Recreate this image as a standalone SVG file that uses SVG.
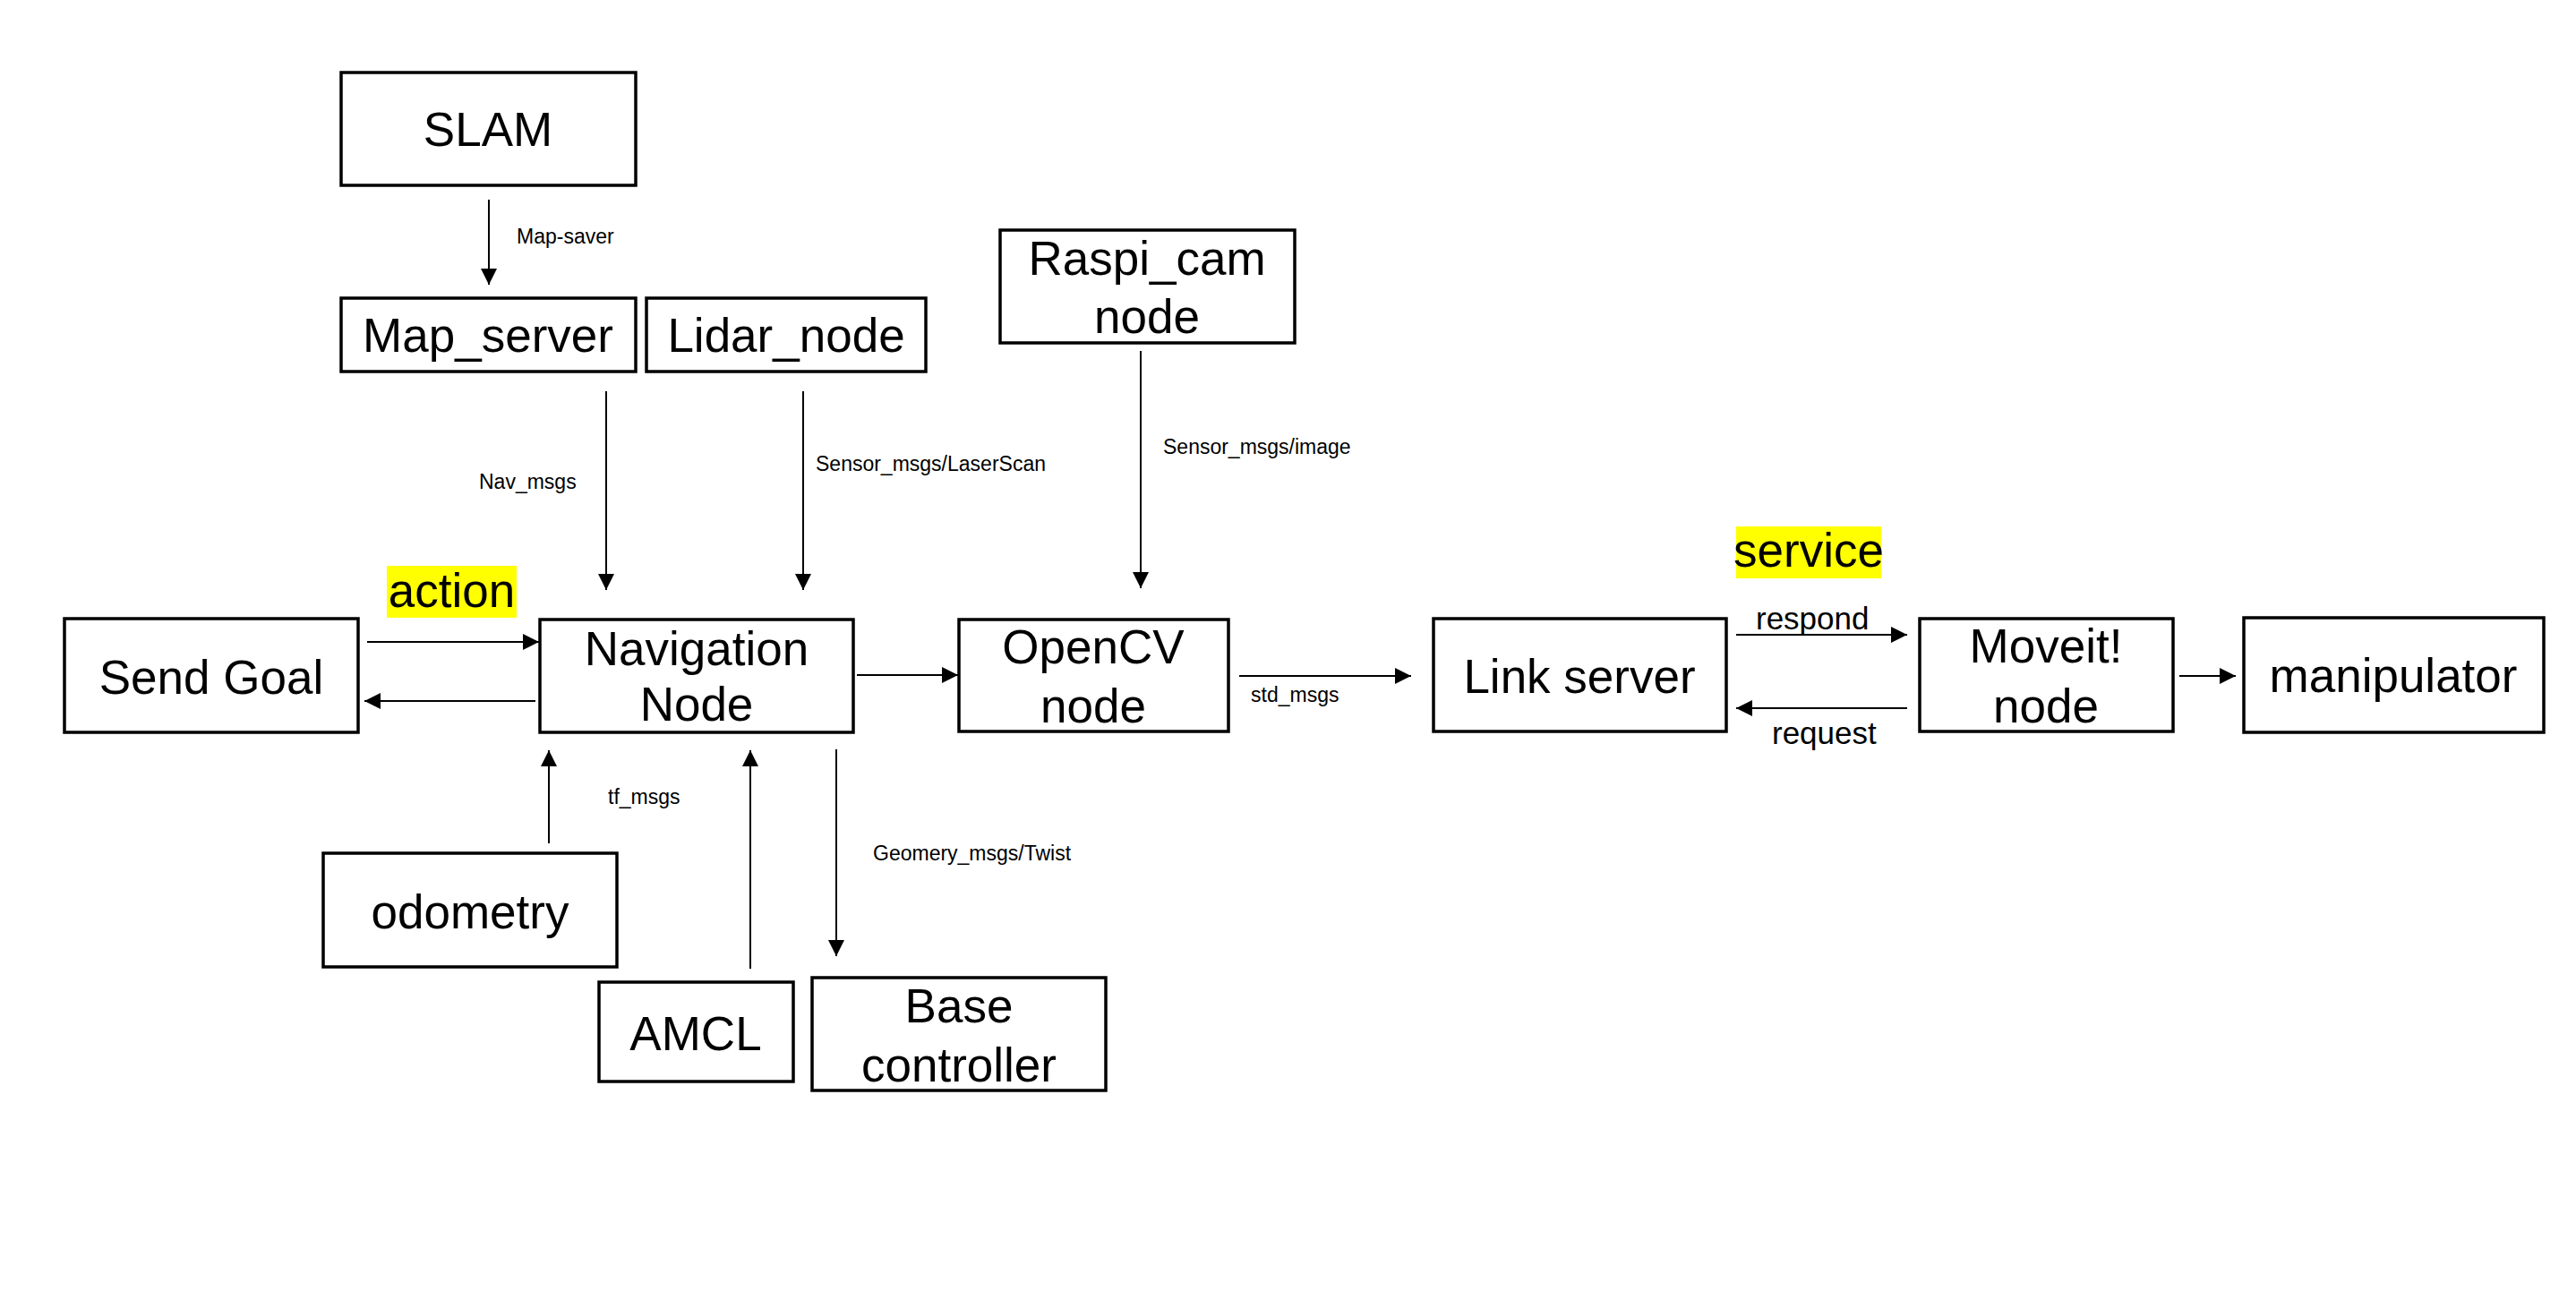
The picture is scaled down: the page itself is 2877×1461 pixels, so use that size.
<svg xmlns="http://www.w3.org/2000/svg" width="2877" height="1461" viewBox="0 0 2877 1461">
<defs>
<style>
.box{fill:#fff;stroke:#000;stroke-width:3.5}
.nt{font-family:"Liberation Sans",Arial,sans-serif;font-size:53px;fill:#000;text-anchor:middle}
.lb{font-family:"Liberation Sans",Arial,sans-serif;font-size:23px;fill:#000}
.lb2{font-family:"Liberation Sans",Arial,sans-serif;font-size:35px;fill:#000}
.hl{fill:#ffff00}
.cn line{stroke:#000;stroke-width:2;fill:none;marker-end:url(#ah)}
</style>
<marker id="ah" markerUnits="userSpaceOnUse" markerWidth="18" markerHeight="18" refX="18" refY="9" orient="auto" viewBox="0 0 18 18">
<path d="M0,0 L18,9 L0,18 z" fill="#000"/>
</marker>
</defs>
<rect width="2877" height="1461" fill="#fff"/>

<g id="connectors" class="cn">
<line x1="546" y1="223" x2="546" y2="318"/>
<line x1="677" y1="437" x2="677" y2="659"/>
<line x1="897" y1="437" x2="897" y2="659"/>
<line x1="1274" y1="392" x2="1274" y2="657"/>
<line x1="410" y1="717" x2="602" y2="717"/>
<line x1="598" y1="783" x2="407" y2="783"/>
<line x1="957" y1="754" x2="1070" y2="754"/>
<line x1="1384" y1="755" x2="1576" y2="755"/>
<line x1="1939" y1="709" x2="2130" y2="709"/>
<line x1="2130" y1="791" x2="1939" y2="791"/>
<line x1="2434" y1="755" x2="2497" y2="755"/>
<line x1="613" y1="942" x2="613" y2="838"/>
<line x1="838" y1="1082" x2="838" y2="838"/>
<line x1="934" y1="837" x2="934" y2="1068"/>
</g>

<g id="labels">
<text class="lb" x="577" y="272">Map-saver</text>
<text class="lb" x="535" y="546">Nav_msgs</text>
<text class="lb" x="911" y="526">Sensor_msgs/LaserScan</text>
<text class="lb" x="1299" y="507">Sensor_msgs/image</text>
<text class="lb" x="1397" y="784">std_msgs</text>
<text class="lb" x="679" y="898">tf_msgs</text>
<text class="lb" x="975" y="961">Geomery_msgs/Twist</text>
<text class="lb2" x="1961" y="703">respond</text>
<text class="lb2" x="1979" y="831">request</text>
<g id="action-label">
<rect class="hl" x="432" y="632" width="145" height="58"/>
<text class="nt" x="504.5" y="678" font-size="52">action</text>
</g>
<g id="service-label">
<rect class="hl" x="1939" y="588" width="162" height="58"/>
<text class="nt" x="2020" y="633" font-size="51">service</text>
</g>
</g>

<g id="slam"><rect class="box" x="381" y="81" width="329" height="126"/><text class="nt" x="545" y="163">SLAM</text></g>
<g id="map_server"><rect class="box" x="381" y="333" width="329" height="82"/><text class="nt" x="545" y="393">Map_server</text></g>
<g id="lidar_node"><rect class="box" x="722" y="333" width="312" height="82"/><text class="nt" x="878" y="393">Lidar_node</text></g>
<g id="raspi_cam"><rect class="box" x="1117" y="257" width="329" height="126"/><text class="nt" x="1281" y="307">Raspi_cam</text><text class="nt" x="1281" y="372">node</text></g>
<g id="send_goal"><rect class="box" x="72" y="691" width="328" height="127"/><text class="nt" x="236" y="775">Send Goal</text></g>
<g id="navigation"><rect class="box" x="603" y="692" width="350" height="126"/><text class="nt" x="778" y="743">Navigation</text><text class="nt" x="778" y="805">Node</text></g>
<g id="opencv"><rect class="box" x="1071" y="692" width="301" height="125"/><text class="nt" x="1221" y="741">OpenCV</text><text class="nt" x="1221" y="807">node</text></g>
<g id="link_server"><rect class="box" x="1601" y="691" width="327" height="126"/><text class="nt" x="1764" y="774">Link server</text></g>
<g id="moveit"><rect class="box" x="2144" y="691" width="283" height="126"/><text class="nt" x="2285" y="740">Moveit!</text><text class="nt" x="2285" y="807">node</text></g>
<g id="manipulator"><rect class="box" x="2506" y="690" width="335" height="128"/><text class="nt" x="2673" y="773">manipulator</text></g>
<g id="odometry"><rect class="box" x="361" y="953" width="328" height="127"/><text class="nt" x="525" y="1037">odometry</text></g>
<g id="amcl"><rect class="box" x="669" y="1097" width="217" height="111"/><text class="nt" x="777" y="1173">AMCL</text></g>
<g id="base_controller"><rect class="box" x="907" y="1092" width="328" height="126"/><text class="nt" x="1071" y="1142">Base</text><text class="nt" x="1071" y="1208">controller</text></g>
</svg>
